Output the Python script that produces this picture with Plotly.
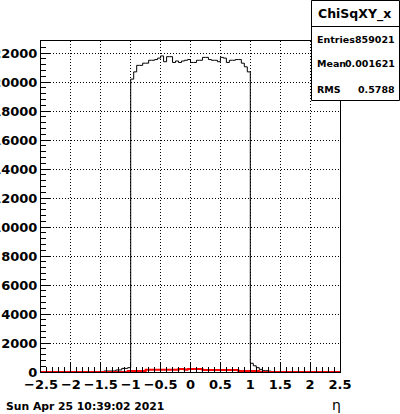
import numpy as np
import plotly.graph_objects as go

# ---- data -------------------------------------------------------------
bin_edges = [round(-2.5 + 0.05 * i, 2) for i in range(101)]

# black histogram (ChiSqXY_x), 100 bins of width 0.05 from -2.5 to 2.5
hist_main = [
    0, 0, 0, 0, 0, 0, 0, 0, 0, 0,          # -2.50 .. -2.05
    0, 0, 0, 0, 0, 0, 0, 0, 0, 0,          # -2.00 .. -1.55
    0, 70, 70, 70, 70, 140, 140, 250, 250, 300,   # -1.50 .. -1.05
    20200, 20700, 21150, 21150, 21300, 21300, 21500, 21500, 21550, 21650,  # -1.00 .. -0.55
    21800, 21400, 21750, 21750, 21350, 21450, 21350, 21450, 21500, 21550,  # -0.50 .. -0.05
    21350, 21350, 21500, 21500, 21700, 21700, 21550, 21500, 21500, 21400,  # 0.00 .. 0.45
    21700, 21650, 21350, 21500, 21500, 21550, 21550, 21300, 21050, 20700,  # 0.50 .. 0.95
    600, 430, 300, 180, 90, 90, 60, 0, 0, 0,      # 1.00 .. 1.45
    0, 0, 0, 0, 0, 0, 0, 0, 0, 0,          # 1.50 .. 1.95
    0, 0, 0, 0, 0, 0, 0, 0, 0, 0,          # 2.00 .. 2.45
]

# red histogram
hist_red = [
    0, 0, 0, 0, 0, 0, 0, 0, 0, 0,
    0, 0, 0, 0, 0, 0, 0, 0, 0, 0,
    0, 0, 0, 0, 0, 0, 0, 0, 0, 70,
    70, 70, 70, 70, 70, 160, 160, 160, 160, 160,
    160, 160, 160, 160, 160, 160, 210, 210, 160, 210,
    210, 210, 210, 210, 140, 140, 140, 140, 140, 140,
    140, 140, 140, 140, 140, 140, 70, 70, 70, 70,
    70, 70, 70, 0, 0, 0, 0, 0, 0, 0,
    0, 0, 0, 0, 0, 0, 0, 0, 0, 0,
    0, 0, 0, 0, 0, 0, 0, 0, 0, 0,
]

y_ticks = list(range(0, 22001, 2000))
y_tick_text = [str(v) for v in y_ticks]
x_ticks = [-2.5, -2, -1.5, -1, -0.5, 0, 0.5, 1, 1.5, 2, 2.5]
x_tick_text = ["\u22122.5", "\u22122", "\u22121.5", "\u22121", "\u22120.5", "0",
               "0.5", "1", "1.5", "2", "2.5"]

stats_title = "ChiSqXY_x"
stats = [("Entries", "859021"), ("Mean", "0.001621"), ("RMS", "0.5788")]
date_text = "Sun Apr 25 10:39:02 2021"
x_title = "\u03b7"

# ---- figure -----------------------------------------------------------
W, H = 400, 414
L, R, T, B = 41, 60, 41, 42
pw, ph = W - L - R, H - T - B


def px_to_paper(px, py):
    return (px - L) / pw, (H - B - py) / ph


fig = go.Figure()
fig.add_trace(go.Scatter(
    x=bin_edges, y=hist_main + [hist_main[-1]], mode="lines",
    line=dict(shape="hv", color="black", width=1), hoverinfo="skip"))
fig.add_trace(go.Scatter(
    x=bin_edges, y=hist_red + [hist_red[-1]], mode="lines",
    line=dict(shape="hv", color="#ff0000", width=2), hoverinfo="skip"))

tickfont = dict(family="DejaVu Sans", size=13, color="black", weight="bold")

fig.update_layout(
    width=W, height=H, margin=dict(l=L, r=R, t=T, b=B, autoexpand=False),
    paper_bgcolor="white", plot_bgcolor="white", showlegend=False,
    xaxis=dict(range=[-2.5, 2.5], tickvals=x_ticks, ticktext=x_tick_text,
               showline=True, linecolor="black", linewidth=1, mirror=True,
               ticks="inside", ticklen=9, tickcolor="black", tickwidth=1,
               showgrid=True, gridcolor="black", gridwidth=1, griddash="1px,2px",
               zeroline=False, tickfont=tickfont,
               minor=dict(ticks="inside", ticklen=5, dtick=0.1, tick0=0,
                          tickcolor="black", showgrid=False)),
    yaxis=dict(range=[0, 22830], tickvals=y_ticks, ticktext=y_tick_text,
               showline=True, linecolor="black", linewidth=1, mirror=True,
               ticks="inside", ticklen=9, tickcolor="black", tickwidth=1,
               showgrid=True, gridcolor="black", gridwidth=1, griddash="1px,2px",
               zeroline=False, tickfont=tickfont,
               minor=dict(ticks="inside", ticklen=4.5, dtick=400, tick0=0,
                          tickcolor="black", showgrid=False)),
)

# stats box
bx0, by0 = px_to_paper(311.5, 100.5)
bx1, by1 = px_to_paper(399.5, 0.5)
_, sep_y = px_to_paper(0, 26.5)
fig.add_shape(type="rect", xref="paper", yref="paper", x0=bx0, x1=bx1, y0=by0, y1=by1,
              line=dict(color="black", width=1), fillcolor="white", layer="above")
fig.add_shape(type="line", xref="paper", yref="paper", x0=bx0, x1=bx1, y0=sep_y, y1=sep_y,
              line=dict(color="black", width=1), layer="above")

tx, ty = px_to_paper(354, 14)
fig.add_annotation(xref="paper", yref="paper", x=tx, y=ty, text=stats_title,
                   showarrow=False, xanchor="center", yanchor="middle",
                   font=dict(family="DejaVu Sans", size=12.5, color="black", weight="bold"))
rows_y = [40, 64, 89]
for (lab, val), ry in zip(stats, rows_y):
    lx, ly = px_to_paper(315, ry)
    rx, _ = px_to_paper(397, ry)
    sfont = dict(family="DejaVu Sans", size=9.5, color="black", weight="bold")
    fig.add_annotation(xref="paper", yref="paper", x=lx, y=ly, text=lab, showarrow=False,
                       xanchor="left", yanchor="middle", font=sfont)
    fig.add_annotation(xref="paper", yref="paper", x=rx, y=ly, text=val, showarrow=False,
                       xanchor="right", yanchor="middle", font=sfont)

dx, dy = px_to_paper(4, 406)
fig.add_annotation(xref="paper", yref="paper", x=dx, y=dy, text=date_text, showarrow=False,
                   xanchor="left", yanchor="middle",
                   font=dict(family="DejaVu Sans", size=10.8, color="black", weight="bold"))
ex, ey = px_to_paper(336, 405)
fig.add_annotation(xref="paper", yref="paper", x=ex, y=ey, text=x_title, showarrow=False,
                   xanchor="center", yanchor="middle",
                   font=dict(family="DejaVu Sans", size=14, color="black"))

fig.write_html("out.html", config={"displayModeBar": False},
               post_script="document.body.style.margin='0';document.body.style.overflow='hidden';")
